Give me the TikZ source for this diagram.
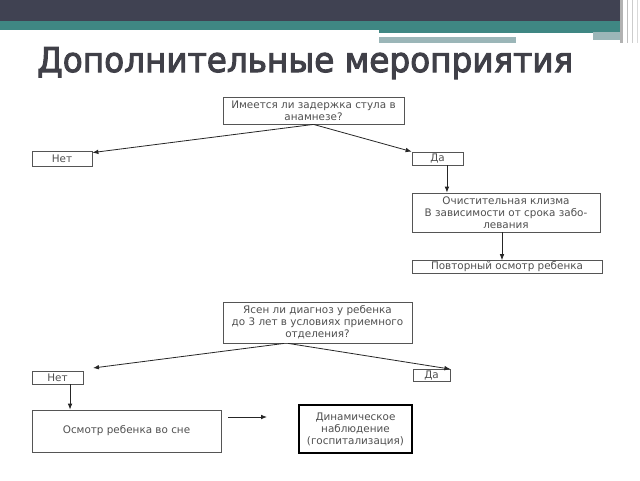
\documentclass[tikz,border=0pt]{standalone}
\usepackage{fontspec}
\setmainfont{DejaVu Sans}
\newfontfamily\titlefont{DejaVu Sans}[FakeBold=3]
\usetikzlibrary{arrows.meta}
\definecolor{darkband}{HTML}{404252}
\definecolor{tealband}{HTML}{3F8783}
\definecolor{greyteal}{HTML}{9BB6B8}
\definecolor{titlecol}{HTML}{404048}
\definecolor{boxtext}{HTML}{505050}
\definecolor{boxline}{HTML}{555555}
\tikzset{
  box/.style={draw=boxline, line width=0.6pt, rectangle, inner sep=0pt, align=center,
    text=boxtext, font=\fontsize{7.8}{9}\selectfont},
  boldbox/.style={box, draw=black, line width=1.6pt},
  arr/.style={draw=black!85, line width=0.6pt, -{Latex[length=4.5pt,width=3.5pt]}}
}
\begin{document}
\begin{tikzpicture}[x=0.75pt,y=-0.75pt]
\useasboundingbox (0,0) rectangle (640,480);
\fill[white] (0,0) rectangle (640,480);
% header bands
\fill[darkband] (0,0) rectangle (620,21);
\fill[tealband] (0,21) rectangle (620,30);
\fill[tealband] (379,30) rectangle (620,33);
\fill[greyteal] (379,37) rectangle (516,43);
\fill[greyteal] (593,32) rectangle (620,40);
\fill[gray!60] (620,0) rectangle (623,43);
\draw[gray!50, line width=0.5pt] (627,0) -- (627,43);
\draw[gray!40, line width=0.5pt] (632,0) -- (632,43);
\draw[gray!30, line width=0.5pt] (637,0) -- (637,43);
% title
\node[anchor=base west, inner sep=0pt, text=titlecol, font=\fontsize{25.7}{30}\selectfont] (title) at (37,72) {\scalebox{0.954}[1]{\titlefont Дополнительные мероприятия}};
% first block
\node[box, minimum width=181*0.75pt, minimum height=27*0.75pt] (q1) at (313.5,110.5) {Имеется ли задержка стула в\\анамнезе?};
\node[box, minimum width=60*0.75pt, minimum height=15*0.75pt] (net1) at (62,158.5) {Нет};
\node[box, minimum width=51*0.75pt, minimum height=13*0.75pt] (da1) at (437.5,158.5) {Да};
\node[box, minimum width=188*0.75pt, minimum height=39*0.75pt] (kl) at (506,212.5) {Очистительная клизма\\В зависимости от срока забо-\\левания};
\node[box, minimum width=190*0.75pt, minimum height=13*0.75pt] (pov) at (507,267) {Повторный осмотр ребенка};
\draw[arr] (q1.south) -- ([yshift=-1.5pt]net1.north east);
\draw[arr] (q1.south) -- (da1.north west);
\draw[arr] ([xshift=7.1pt]da1.south) -- ([xshift=7.1pt]da1.south |- kl.north);
\draw[arr] ([xshift=-3pt]kl.south) -- ([xshift=-3pt]kl.south |- pov.north);
% second block
\node[box, minimum width=189*0.75pt, minimum height=41*0.75pt] (q2) at (317.5,322.5) {Ясен ли диагноз у ребенка\\до 3 лет в условиях приемного\\отделения?};
\node[box, minimum width=37*0.75pt, minimum height=12*0.75pt] (da2) at (431.5,375.5) {Да};
\node[box, minimum width=51*0.75pt, minimum height=13*0.75pt] (net2) at (57.5,377.5) {Нет};
\node[box, minimum width=189*0.75pt, minimum height=42*0.75pt] (osm) at (126.5,431) {Осмотр ребенка во сне};
\node[boldbox, minimum width=113*0.75pt, minimum height=48*0.75pt] (dyn) at (355.5,429) {Динамическое\\наблюдение\\(госпитализация)};
\coordinate (n2t) at (93,368);
\coordinate (f1) at (228,417);
\coordinate (f2) at (267,417);
\draw[arr] ([xshift=-25pt]q2.south) -- (n2t);
\draw[arr] ([xshift=-22pt]q2.south) -- (da2.north east);
\draw[arr] ([xshift=9.4pt]net2.south) -- ([xshift=9.4pt]net2.south |- osm.north);
\draw[arr] (f1) -- (f2);
\end{tikzpicture}
\end{document}
